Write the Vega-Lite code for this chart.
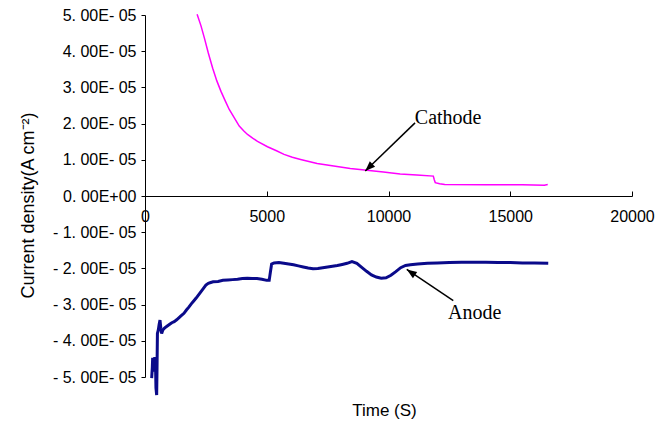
{
  "$schema": "https://vega.github.io/schema/vega-lite/v6.json",
  "width": 487,
  "height": 362,
  "autosize": "none",
  "padding": {"left": 145, "top": 15, "right": 39, "bottom": 44},
  "background": "white",
  "config": {"view": {"stroke": null}, "font": "Liberation Sans"},
  "datasets": {
    "cathode": [
      {"t": 2140, "j": 5.02e-5}, {"t": 2300, "j": 4.7e-5}, {"t": 2440, "j": 4.36e-5}, {"t": 2600, "j": 3.95e-5},
      {"t": 2780, "j": 3.53e-5}, {"t": 2950, "j": 3.18e-5}, {"t": 3120, "j": 2.89e-5}, {"t": 3300, "j": 2.62e-5},
      {"t": 3460, "j": 2.39e-5}, {"t": 3650, "j": 2.18e-5}, {"t": 3870, "j": 1.93e-5}, {"t": 4050, "j": 1.8e-5},
      {"t": 4210, "j": 1.7e-5}, {"t": 4420, "j": 1.6e-5}, {"t": 4620, "j": 1.51e-5}, {"t": 5030, "j": 1.36e-5},
      {"t": 5400, "j": 1.25e-5}, {"t": 5710, "j": 1.15e-5}, {"t": 6050, "j": 1.07e-5}, {"t": 6390, "j": 1.01e-5},
      {"t": 7070, "j": 0.9e-5}, {"t": 7750, "j": 0.83e-5}, {"t": 8430, "j": 0.76e-5}, {"t": 9110, "j": 0.71e-5},
      {"t": 9790, "j": 0.66e-5}, {"t": 10480, "j": 0.61e-5}, {"t": 11160, "j": 0.58e-5}, {"t": 11840, "j": 0.55e-5},
      {"t": 11880, "j": 0.45e-5}, {"t": 11920, "j": 0.37e-5}, {"t": 12100, "j": 0.34e-5}, {"t": 12310, "j": 0.32e-5},
      {"t": 14000, "j": 0.31e-5}, {"t": 15500, "j": 0.31e-5}, {"t": 16400, "j": 0.3e-5}, {"t": 16540, "j": 0.32e-5}
    ],
    "anode": [
      {"t": 274, "j": -5.03e-5}, {"t": 300, "j": -4.75e-5}, {"t": 315, "j": -4.47e-5}, {"t": 342, "j": -4.55e-5},
      {"t": 370, "j": -4.85e-5}, {"t": 400, "j": -4.45e-5}, {"t": 430, "j": -4.6e-5}, {"t": 450, "j": -5.3e-5},
      {"t": 479, "j": -5.5e-5}, {"t": 495, "j": -4.7e-5}, {"t": 510, "j": -3.8e-5}, {"t": 547, "j": -3.7e-5},
      {"t": 580, "j": -3.55e-5}, {"t": 616, "j": -3.43e-5}, {"t": 650, "j": -3.65e-5}, {"t": 684, "j": -3.8e-5},
      {"t": 730, "j": -3.7e-5}, {"t": 800, "j": -3.65e-5}, {"t": 900, "j": -3.6e-5}, {"t": 1000, "j": -3.55e-5},
      {"t": 1100, "j": -3.5e-5}, {"t": 1200, "j": -3.47e-5}, {"t": 1300, "j": -3.42e-5}, {"t": 1400, "j": -3.36e-5},
      {"t": 1500, "j": -3.3e-5}, {"t": 1600, "j": -3.24e-5}, {"t": 1700, "j": -3.15e-5}, {"t": 1800, "j": -3.07e-5},
      {"t": 1900, "j": -2.98e-5}, {"t": 2000, "j": -2.9e-5}, {"t": 2100, "j": -2.82e-5}, {"t": 2200, "j": -2.73e-5},
      {"t": 2300, "j": -2.64e-5}, {"t": 2400, "j": -2.55e-5}, {"t": 2500, "j": -2.46e-5}, {"t": 2600, "j": -2.41e-5},
      {"t": 2700, "j": -2.39e-5}, {"t": 2800, "j": -2.37e-5}, {"t": 3000, "j": -2.36e-5}, {"t": 3200, "j": -2.33e-5},
      {"t": 3400, "j": -2.32e-5}, {"t": 3600, "j": -2.31e-5}, {"t": 3800, "j": -2.3e-5}, {"t": 4000, "j": -2.28e-5},
      {"t": 4200, "j": -2.27e-5}, {"t": 4400, "j": -2.28e-5}, {"t": 4600, "j": -2.28e-5}, {"t": 4800, "j": -2.3e-5},
      {"t": 5000, "j": -2.33e-5}, {"t": 5100, "j": -2.33e-5}, {"t": 5150, "j": -2.1e-5}, {"t": 5200, "j": -1.88e-5},
      {"t": 5300, "j": -1.85e-5}, {"t": 5500, "j": -1.84e-5}, {"t": 5700, "j": -1.86e-5}, {"t": 5900, "j": -1.88e-5},
      {"t": 6100, "j": -1.9e-5}, {"t": 6300, "j": -1.93e-5}, {"t": 6500, "j": -1.96e-5}, {"t": 6700, "j": -1.99e-5},
      {"t": 6900, "j": -2.01e-5}, {"t": 7100, "j": -2.0e-5}, {"t": 7300, "j": -1.98e-5}, {"t": 7500, "j": -1.96e-5},
      {"t": 7700, "j": -1.94e-5}, {"t": 7900, "j": -1.92e-5}, {"t": 8100, "j": -1.89e-5}, {"t": 8300, "j": -1.86e-5},
      {"t": 8500, "j": -1.81e-5}, {"t": 8700, "j": -1.86e-5}, {"t": 8900, "j": -1.97e-5}, {"t": 9100, "j": -2.08e-5},
      {"t": 9300, "j": -2.18e-5}, {"t": 9500, "j": -2.24e-5}, {"t": 9700, "j": -2.27e-5}, {"t": 9900, "j": -2.26e-5},
      {"t": 10100, "j": -2.19e-5}, {"t": 10300, "j": -2.09e-5}, {"t": 10500, "j": -1.98e-5}, {"t": 10700, "j": -1.92e-5},
      {"t": 10900, "j": -1.9e-5}, {"t": 11200, "j": -1.88e-5}, {"t": 11600, "j": -1.86e-5}, {"t": 12000, "j": -1.85e-5},
      {"t": 12500, "j": -1.84e-5}, {"t": 13000, "j": -1.83e-5}, {"t": 13500, "j": -1.83e-5}, {"t": 14000, "j": -1.83e-5},
      {"t": 14500, "j": -1.84e-5}, {"t": 15000, "j": -1.84e-5}, {"t": 15500, "j": -1.85e-5}, {"t": 16000, "j": -1.85e-5},
      {"t": 16560, "j": -1.86e-5}
    ],
    "arrows": [
      {"name": "Cathode", "t": 9045, "j": 0.69e-5, "t2": 11090, "j2": 2.02e-5},
      {"name": "Anode", "t": 10750, "j": -2.03e-5, "t2": 12660, "j2": -2.89e-5}
    ],
    "labels": [
      {"label": "Cathode", "t": 12450, "j": 2.16e-5},
      {"label": "Anode", "t": 13540, "j": -3.24e-5}
    ]
  },
  "encoding": {
    "x": {
      "field": "t", "type": "quantitative",
      "scale": {"domain": [0, 20000], "nice": false, "zero": false},
      "axis": {
        "offset": -181, "values": [0, 5000, 10000, 15000, 20000], "format": "d",
        "tickSize": -5, "labelPadding": 17, "labelFontSize": 16, "labelColor": "black",
        "domainColor": "black", "tickColor": "black", "grid": false, "labelFlush": false,
        "title": "Time (S)", "titleFontSize": 17, "titleFontWeight": "normal", "titleColor": "black",
        "titleX": 239, "titleY": 214, "titleAlign": "center", "titleBaseline": "middle"
      }
    },
    "y": {
      "field": "j", "type": "quantitative",
      "scale": {"domain": [-0.00005, 0.00005], "nice": false, "zero": false},
      "axis": {
        "values": [-0.00005, -0.00004, -0.00003, -0.00002, -0.00001, 0, 0.00001, 0.00002, 0.00003, 0.00004, 0.00005],
        "labelExpr": "datum.value == 0 ? '0. 00E+00' : (datum.value < 0 ? '- ' : '') + abs(round(datum.value * 100000)) + '. 00E- 05'",
        "tickSize": 4, "labelPadding": 5, "labelFontSize": 16, "labelColor": "black",
        "domainColor": "black", "tickColor": "black", "grid": false,
        "title": "Current density(A cm⁻²)", "titleFontSize": 18, "titleFontWeight": "normal", "titleColor": "black",
        "titleX": -117, "titleY": 190, "titleAngle": -90, "titleAlign": "center", "titleBaseline": "middle"
      }
    }
  },
  "layer": [
    {"data": {"name": "cathode"}, "mark": {"type": "line", "color": "#ff00ff", "strokeWidth": 1.5}},
    {"data": {"name": "anode"}, "mark": {"type": "line", "color": "#0a0a8a", "strokeWidth": 3}},
    {"data": {"name": "arrows"}, "mark": {"type": "rule", "color": "black", "strokeWidth": 1.5},
     "encoding": {"x2": {"field": "t2"}, "y2": {"field": "j2"}}},
    {"data": {"name": "arrows"}, "transform": [{"filter": "datum.name == 'Cathode'"}],
     "mark": {"type": "point", "shape": "M0,0L-0.38,1L0.38,1Z", "filled": true, "color": "black", "opacity": 1, "size": 400, "angle": 226}},
    {"data": {"name": "arrows"}, "transform": [{"filter": "datum.name == 'Anode'"}],
     "mark": {"type": "point", "shape": "M0,0L-0.38,1L0.38,1Z", "filled": true, "color": "black", "opacity": 1, "size": 400, "angle": 304}},
    {"data": {"name": "labels"}, "mark": {"type": "text", "font": "Liberation Serif", "fontSize": 20, "color": "black", "align": "center", "baseline": "middle"},
     "encoding": {"text": {"field": "label"}}}
  ]
}
